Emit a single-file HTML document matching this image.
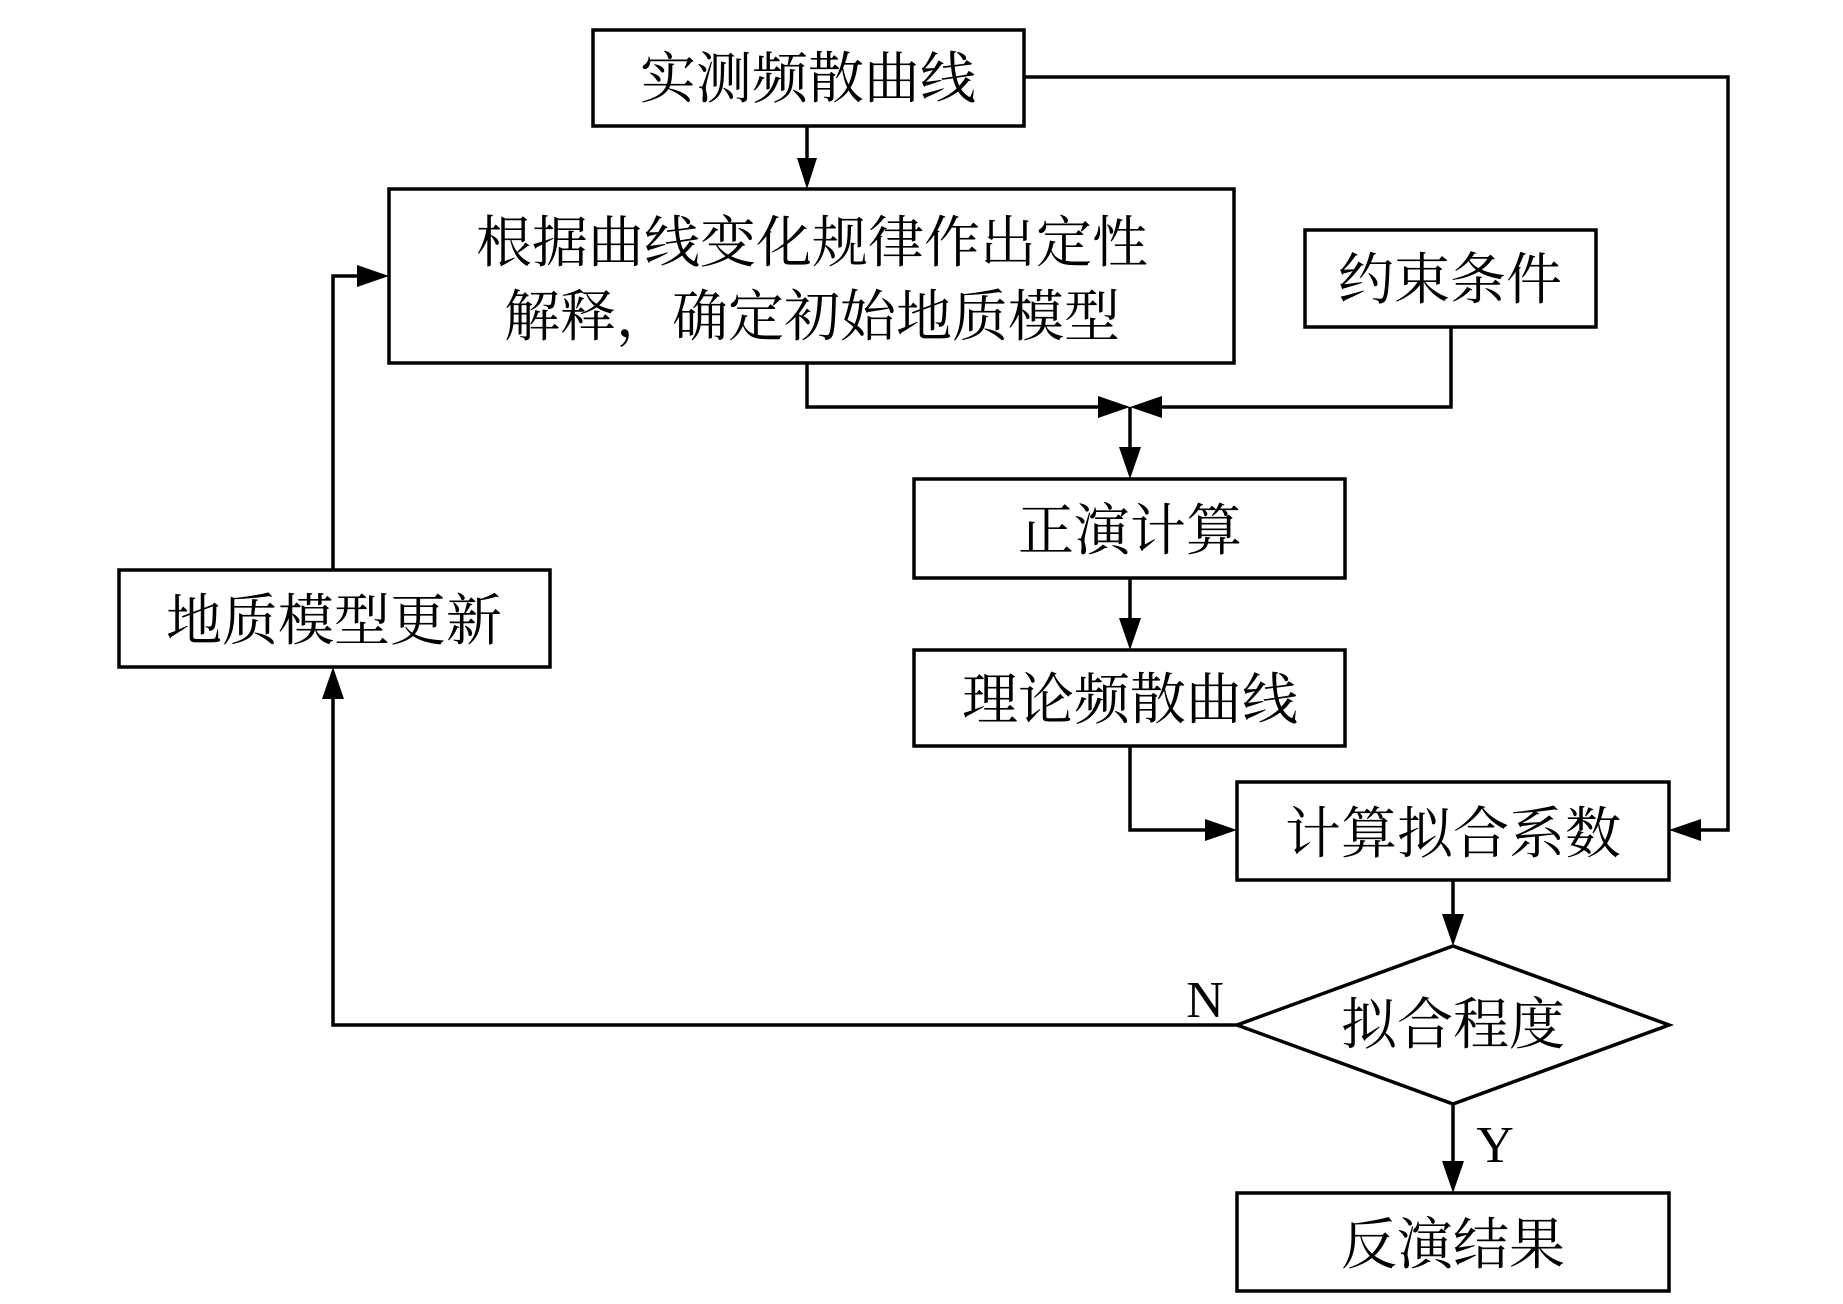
<!DOCTYPE html>
<html><head><meta charset="utf-8"><style>
html,body{margin:0;padding:0;background:#fff}
svg text{font-family:"Liberation Serif","Noto Serif CJK SC",serif;fill:#000}
</style></head><body>
<svg width="1843" height="1299" viewBox="0 0 1843 1299" xmlns="http://www.w3.org/2000/svg">
<defs>
<marker id="a" viewBox="0 0 10 10" refX="10" refY="5" markerWidth="9" markerHeight="7" markerUnits="userSpaceOnUse" orient="auto" style="overflow:visible">
</marker>
</defs>
<g fill="none" stroke="#000" stroke-width="3.5">
<rect x="593" y="30" width="431" height="96"/>
<rect x="389" y="189" width="845" height="174"/>
<rect x="1305" y="230" width="291" height="97"/>
<rect x="914" y="479" width="431" height="99"/>
<rect x="914" y="650" width="431" height="96"/>
<rect x="1237" y="782" width="432" height="98"/>
<polygon points="1237,1025 1453,946 1669,1025 1453,1104"/>
<rect x="1237" y="1193" width="432" height="98"/>
<rect x="119" y="570" width="431" height="97"/>
<!-- connectors -->
<polyline points="807,126 807,160"/>
<polyline points="807,363 807,407 1100,407"/>
<polyline points="1451,327 1451,407 1146,407"/>
<polyline points="1130,407 1130,450"/>
<polyline points="1130,578 1130,622"/>
<polyline points="1130,746 1130,830 1205,830"/>
<polyline points="1024,77 1728,77 1728,830 1698,830"/>
<polyline points="1453,880 1453,918"/>
<polyline points="1453,1104 1453,1163"/>
<polyline points="1237,1025 333,1025 333,697"/>
<polyline points="333,570 333,276 360,276"/>
</g>
<g fill="#000">
<polygon points="807,189 797,158 817,158"/>
<polygon points="1130,407 1098,396 1098,418"/>
<polygon points="1130,407 1162,396 1162,418"/>
<polygon points="1130,479 1119,447 1141,447"/>
<polygon points="1130,650 1119,618 1141,618"/>
<polygon points="1237,830 1205,819 1205,841"/>
<polygon points="1669,830 1701,819 1701,841"/>
<polygon points="1453,946 1442,914 1464,914"/>
<polygon points="1453,1193 1442,1161 1464,1161"/>
<polygon points="333,667 322,699 344,699"/>
<polygon points="389,276 357,265 357,287"/>
</g>
<g font-size="56" text-anchor="middle">
<text x="808" y="98">实测频散曲线</text>
<text x="812" y="262">根据曲线变化规律作出定性</text>
<text x="812" y="336">解释，确定初始地质模型</text>
<text x="1450" y="299">约束条件</text>
<text x="1130" y="550">正演计算</text>
<text x="1130" y="719">理论频散曲线</text>
<text x="1453" y="853">计算拟合系数</text>
<text x="1453" y="1044">拟合程度</text>
<text x="1453" y="1264">反演结果</text>
<text x="334" y="640">地质模型更新</text>
<text x="1205" y="1017" font-size="52">N</text>
<text x="1495" y="1162" font-size="52">Y</text>
</g>
</svg>
</body></html>
